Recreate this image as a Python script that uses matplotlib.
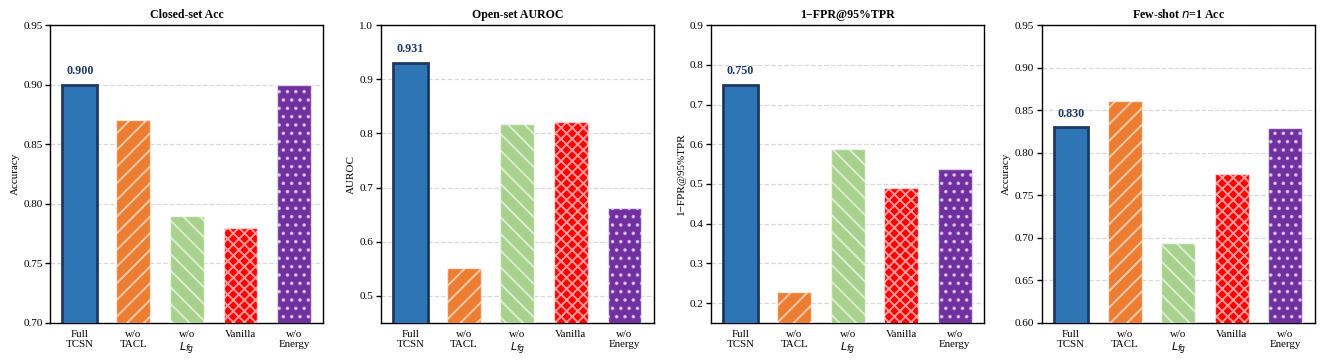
import numpy as np
import matplotlib
matplotlib.use('Agg')
import matplotlib.pyplot as plt

# --- 数据 ---
labels = ['Full\nTCSN', 'w/o\nTACL', 'w/o\n$L_{fg}$', 'Vanilla', 'w/o\nEnergy']
titles = ['Closed-set Acc', 'Open-set AUROC', '1\u2212FPR@95%TPR', 'Few-shot $n$=1 Acc']
ylabels = ['Accuracy', 'AUROC', '1\u2212FPR@95%TPR', 'Accuracy']

closed_acc = [0.900, 0.870, 0.790, 0.780, 0.900]
open_auroc = [0.931, 0.552, 0.818, 0.822, 0.663]
fpr_score = [0.750, 0.228, 0.588, 0.490, 0.538]
fewshot_acc = [0.830, 0.861, 0.694, 0.775, 0.829]

ylims = [(0.70, 0.95), (0.45, 1.0), (0.15, 0.9), (0.60, 0.95)]
yticks = [np.arange(0.70, 0.951, 0.05), np.arange(0.5, 1.01, 0.1),
          np.arange(0.2, 0.91, 0.1), np.arange(0.60, 0.951, 0.05)]
yfmt = ['%.2f', '%.1f', '%.1f', '%.2f']

colors = ['#2e75b6', '#ed7d31', '#a9d18e', '#ff0000', '#7030a0']
hatches = ['', '//', '\\\\', 'xxx', '..']


def main():
    plt.rcParams['font.family'] = ['Liberation Serif', 'DejaVu Serif']
    plt.rcParams['mathtext.fontset'] = 'dejavusans'
    plt.rcParams['hatch.color'] = 'white'
    plt.rcParams['hatch.linewidth'] = 1.4

    fig, axes = plt.subplots(1, 4, figsize=(13.24, 3.6), dpi=100)
    fig.subplots_adjust(left=0.038, right=0.993, top=0.93, bottom=0.103, wspace=0.21)

    all_data = [closed_acc, open_auroc, fpr_score, fewshot_acc]
    x = np.arange(len(labels))

    for i, ax in enumerate(axes):
        vals = all_data[i]
        for j in range(len(labels)):
            if j == 0:
                ax.bar(x[j], vals[j], width=0.65, color=colors[j],
                       edgecolor='#1f3864', linewidth=2.0, zorder=3)
            else:
                ax.bar(x[j], vals[j], width=0.63, color=colors[j],
                       hatch=hatches[j], edgecolor=(1, 1, 1, 0.6),
                       linewidth=1.0, zorder=3)
        ax.text(x[0], vals[0] + (ylims[i][1] - ylims[i][0]) * 0.025,
                '%.3f' % vals[0], ha='center', va='bottom',
                fontsize=8.7, fontweight='bold', color='#1f3864')

        ax.set_ylim(*ylims[i])
        ax.set_xlim(-0.55, 4.55)
        ax.set_yticks(yticks[i])
        ax.set_yticklabels([yfmt[i] % v for v in yticks[i]], fontsize=8)
        ax.set_xticks(x)
        ax.set_xticklabels(labels, fontsize=7.8, linespacing=1.15)
        ax.tick_params(axis='x', length=0, pad=5)
        ax.tick_params(axis='y', length=3.5, width=1, pad=2)
        ax.set_ylabel(ylabels[i], fontsize=8, labelpad=2.5)
        ax.set_title(titles[i], fontsize=8.6, fontweight='bold', pad=5)
        ax.yaxis.grid(True, linestyle='--', color='#d9d9d9', linewidth=0.9, zorder=0)
        ax.set_axisbelow(True)
        for s in ax.spines.values():
            s.set_linewidth(1.0)

    plt.savefig('out.png', dpi=100)


if __name__ == "__main__":
    main()
